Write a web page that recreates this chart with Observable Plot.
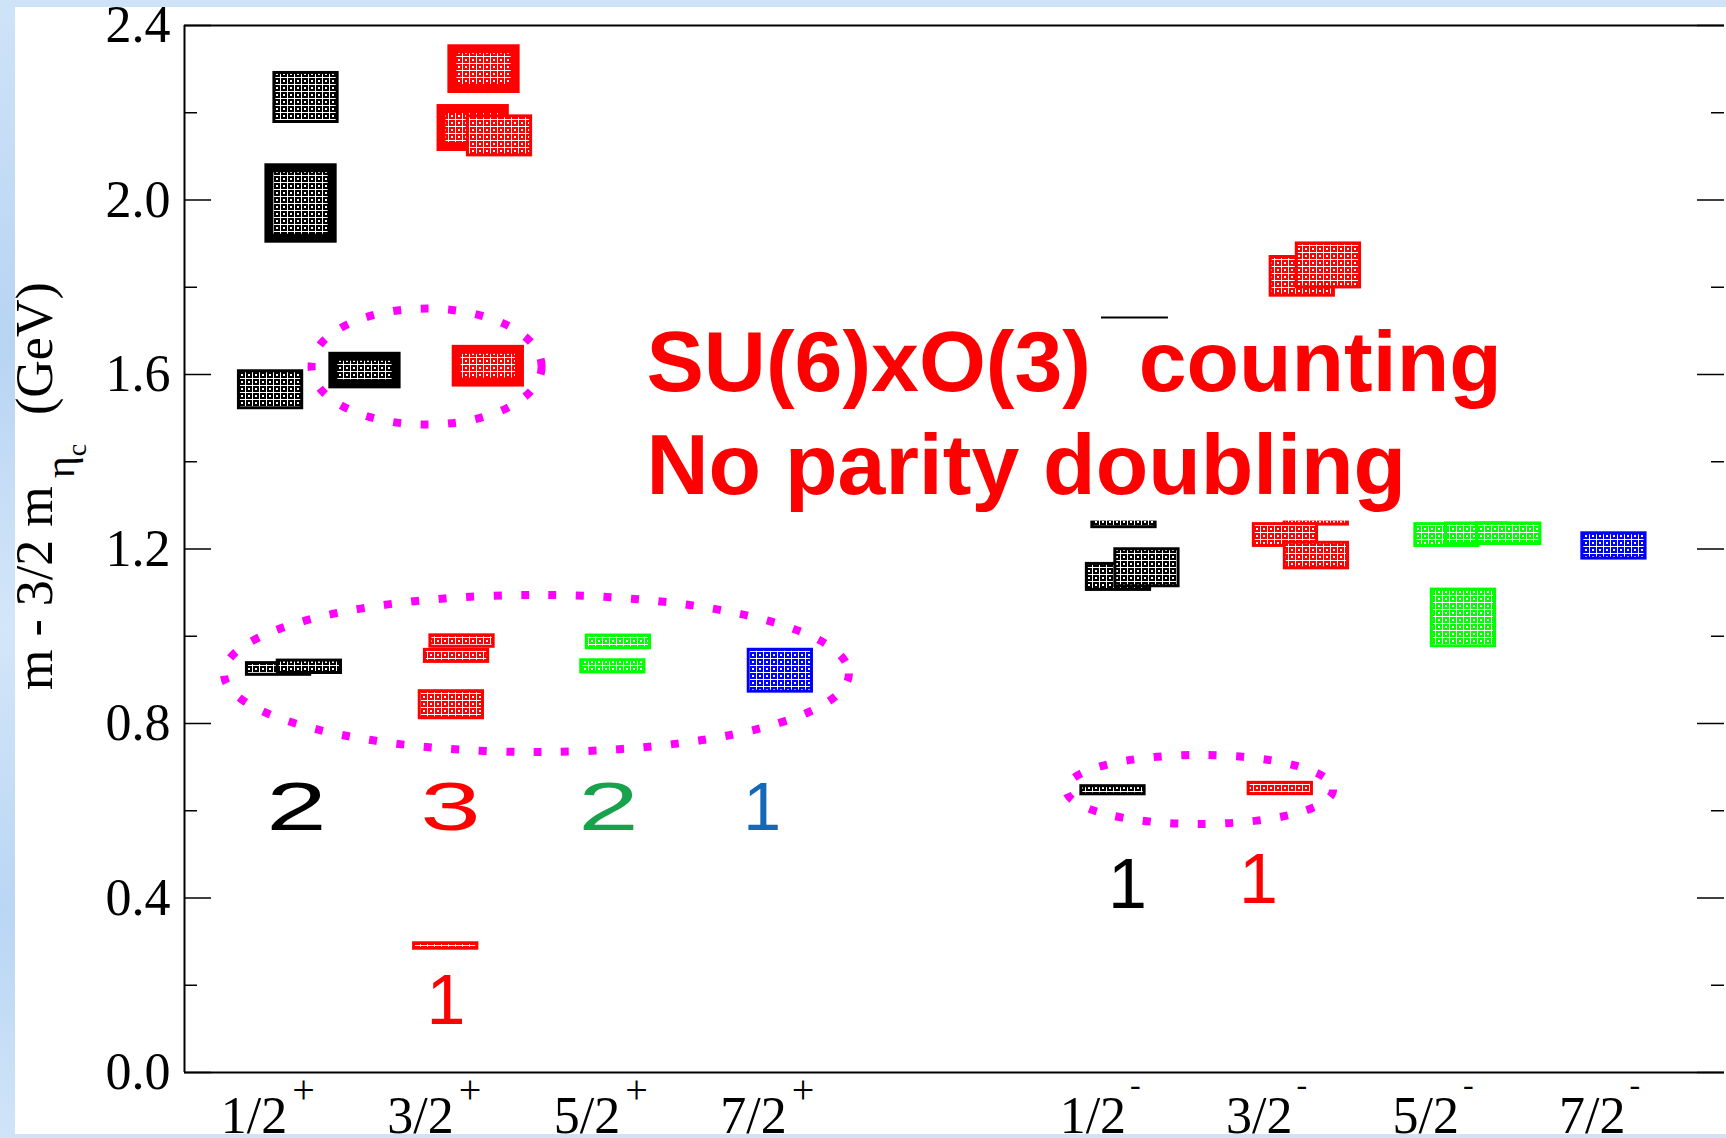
<!DOCTYPE html>
<html><head><meta charset="utf-8">
<script src="https://cdn.jsdelivr.net/npm/d3@7"></script>
<script src="https://cdn.jsdelivr.net/npm/@observablehq/plot@0.6"></script>
<style>
html,body{margin:0;padding:0;}
body{width:1726px;height:1138px;overflow:hidden;background:linear-gradient(180deg,#cfe3f8 0%,#b7d4f3 30%,#d4e6f9 55%,#b9d6f4 80%,#d0e4f8 100%);}
#wrap{position:absolute;left:0;top:0;width:1726px;height:1138px;}
#panel{position:absolute;left:15px;top:7px;right:0;bottom:4px;background:#fff;}
#chart{position:absolute;left:0;top:0;width:1726px;height:1138px;}
</style></head><body>
<div id="wrap"><div id="panel"></div><div id="chart"></div></div>
<script>
// ---------- data ----------
const jpLabels = ["1/2+","3/2+","5/2+","7/2+","1/2-","3/2-","5/2-","7/2-"];
const jpPos    = [1, 2, 3, 4, 6, 7, 8, 9];
const jColors  = {"1/2": "#000000", "3/2": "#ff0000", "5/2": "#00ff00", "7/2": "#0000ff"};

// each level: [shift from J^P position, mass m - 3/2 m_etac (GeV), half error (GeV), thick border]
const lv_1h_plus  = [[0.017,1.565,0.0424,0],[0.584,1.609,0.0316,1],[0.200,1.992,0.0807,1],[0.230,2.235,0.0562,0],[0.065,0.925,0.0134,0],[0.250,0.930,0.0142,0]];
const lv_3h_plus  = [[0.069,0.290,0.0062,0],[0.103,0.843,0.0310,0],[0.134,0.955,0.0138,0],[0.167,0.989,0.0131,0],[0.325,1.619,0.0375,1],[0.234,2.165,0.0435,1],[0.392,2.147,0.0447,0],[0.299,2.300,0.0455,1]];
const lv_5h_plus  = [[0.073,0.931,0.0140,0],[0.106,0.987,0.0146,0]];
const lv_7h_plus  = [[0.079,0.921,0.0480,0]];
const lv_1h_minus = [[0.077,0.647,0.0093,0],[0.143,1.262,0.0120,0],[0.110,1.136,0.0298,0],[0.281,1.157,0.0424,0]];
const lv_3h_minus = [[0.082,0.651,0.0130,0],[0.298,1.272,0.0160,0],[0.113,1.232,0.0250,0],[0.299,1.185,0.0293,0],[0.214,1.825,0.0443,0],[0.371,1.850,0.0504,0]];
const lv_5h_minus = [[0.182,1.042,0.0649,0],[0.083,1.232,0.0250,0],[0.267,1.235,0.0235,0],[0.454,1.235,0.0235,0]];
const lv_7h_minus = [[0.086,1.207,0.0290,0]];

// counting numbers under the levels
const countText    = ["2","3","2","1","1","1","1"];
const countX       = [1.173, 2.098, 3.047, 3.969, 2.071, 6.164, 6.951];
const countY       = [0.555, 0.555, 0.555, 0.555, 0.112, 0.376, 0.389];
const countColor   = ["#000000","#ff0000","#17a24b","#1468b8","#ff0000","#000000","#ff0000"];
const countSize    = [68, 68, 68, 68, 70, 70, 70];
const countStretch = [1.6, 1.6, 1.6, 1.0, 1.0, 1.0, 1.0];

// annotation
const noteLines = ["SU(6)xO(3)\u00a0\u00a0counting", "No parity doubling"];
const noteX = [3.275, 3.275];
const noteY = [1.563, 1.327];
const coverX = [3.239, 8.765];
const coverY = [1.264, 1.770];
const overlineX = [6.008, 6.410];
const overlineY = [1.7307];

// dotted ellipses (centre and radii in data units)
const ellipseCX = [1.957, 2.617, 6.600];
const ellipseCY = [1.617, 0.9135, 0.6476];
const ellipseRX = [0.691, 1.877, 0.802];
const ellipseRY = [0.133, 0.180, 0.0791];

const yMajor = [0, 0.4, 0.8, 1.2, 1.6, 2.0, 2.4];
const yMinor = [0.2, 0.6, 1.0, 1.4, 1.8, 2.2];

// ---------- build tables ----------
const levelSets = [lv_1h_plus, lv_3h_plus, lv_5h_plus, lv_7h_plus, lv_1h_minus, lv_3h_minus, lv_5h_minus, lv_7h_minus];
const boxes = levelSets.flatMap((set, k) => set.map(([shift, m, e, thick]) => ({
  J: jpLabels[k].slice(0, 3), pos: jpPos[k] + shift, m, e, thick
})));
const counts = countText.map((t, i) => ({t, x: countX[i], y: countY[i], c: countColor[i], s: countSize[i]}));
const notes = noteLines.map((t, i) => ({t, x: noteX[i], y: noteY[i]}));
const ellipses = ellipseCX.map((cx, i) => ({cx, cy: ellipseCY[i], rx: ellipseRX[i], ry: ellipseRY[i]}));

const hw = 0.19;
const ns = "http://www.w3.org/2000/svg";
const jKeys = Object.keys(jColors);

const boxMarks = jKeys.map((J, k) => Plot.rect(boxes.filter(b => b.J === J), {
  x1: d => d.pos - hw, x2: d => d.pos + hw,
  y1: d => d.m - d.e, y2: d => d.m + d.e,
  fill: `url(#pat${k})`, stroke: jColors[J],
  strokeWidth: d => d.thick ? 9 : 3
}));

const ellipseMark = (index, scales) => {
  const g = document.createElementNS(ns, "g");
  for (const e of ellipses) {
    const el = document.createElementNS(ns, "ellipse");
    const cx = scales.x(e.cx), cy = scales.y(e.cy);
    el.setAttribute("cx", cx);
    el.setAttribute("cy", cy);
    el.setAttribute("rx", scales.x(e.cx + e.rx) - cx);
    el.setAttribute("ry", cy - scales.y(e.cy + e.ry));
    el.setAttribute("fill", "none");
    el.setAttribute("stroke", "#ff00ff");
    el.setAttribute("stroke-width", 8);
    el.setAttribute("stroke-dasharray", "8 19.5");
    g.appendChild(el);
  }
  return g;
};

const yLabelMark = () => {
  const t = document.createElementNS(ns, "text");
  t.setAttribute("transform", "translate(52,690) rotate(-90)");
  t.setAttribute("text-anchor", "start");
  t.setAttribute("font-family", "'Liberation Serif', serif");
  t.setAttribute("font-size", 52);
  t.setAttribute("fill", "#000");
  const parts = [["m - 3/2 m", {}], ["η", {"font-size": 42, dy: 22, dx: 8}], ["c", {"font-size": 28, dy: 12}], ["(GeV)", {x: 275, y: 0}]];
  for (const [txt, attrs] of parts) {
    const s = document.createElementNS(ns, "tspan");
    for (const [k, v] of Object.entries(attrs)) s.setAttribute(k, v);
    s.textContent = txt;
    t.appendChild(s);
  }
  return t;
};

const FW = 1726 - 184 - 2;

const plot = Plot.plot({
  width: 1726, height: 1138,
  marginLeft: 184, marginRight: 2, marginTop: 25, marginBottom: 66,
  x: {domain: [0.5, 9.75]},
  y: {domain: [0, 2.4]},
  color: {type: "identity"},
  style: {background: "transparent", fontFamily: "'Liberation Serif', serif", color: "#000"},
  marks: [
    ...boxMarks,
    Plot.rect([0], {x1: () => coverX[0], x2: () => coverX[1], y1: () => coverY[0], y2: () => coverY[1], fill: "white"}),
    Plot.ruleY(overlineY, {y: d => d, x1: () => overlineX[0], x2: () => overlineX[1], stroke: "#000", strokeWidth: 2}),
    Plot.text(notes, {x: "x", y: "y", text: "t", textAnchor: "start", lineAnchor: "bottom",
      fill: "#ff0000", fontFamily: "'Liberation Sans', Arial, sans-serif", fontWeight: "bold", fontSize: 86}),
    ellipseMark,
    Plot.text(counts, {x: "x", y: "y", text: "t", fill: "c", fontSize: "s", lineAnchor: "bottom",
      fontFamily: "'Liberation Sans', Arial, sans-serif"}),
    Plot.tickY(yMajor, {y: d => d, insetRight: FW - 27, stroke: "#000", strokeWidth: 1.5}),
    Plot.tickY(yMinor, {y: d => d, insetRight: FW - 13, stroke: "#000", strokeWidth: 1.5}),
    Plot.tickY(yMajor, {y: d => d, insetLeft: FW - 27, stroke: "#000", strokeWidth: 1.5}),
    Plot.tickY(yMinor, {y: d => d, insetLeft: FW - 13, stroke: "#000", strokeWidth: 1.5}),
    Plot.ruleY([0, 2.4], {stroke: "#000", strokeWidth: 2}),
    Plot.ruleX([0.5], {stroke: "#000", strokeWidth: 2}),
    Plot.axisY({ticks: yMajor, tickSize: 0, tickPadding: 14, tickFormat: d3.format(".1f"), fontSize: 52, label: null}),
    Plot.axisX({ticks: jpPos, tickSize: 0, tickPadding: 24, tickFormat: d => jpLabels[jpPos.indexOf(d)], fontSize: 52, label: null}),
    yLabelMark
  ]
});

// fill patterns
const defs = document.createElementNS(ns, "defs");
jKeys.forEach((J, k) => {
  const p = document.createElementNS(ns, "pattern");
  p.setAttribute("id", `pat${k}`);
  p.setAttribute("patternUnits", "userSpaceOnUse");
  p.setAttribute("width", 7); p.setAttribute("height", 7);
  const rects = [[0,0,7,7,jColors[J]],[0,0,7,1,"#fff"],[0,0,1,7,"#fff"],[3,3,2,2,"#fff"]];
  for (const [x,y,w,h,f] of rects) {
    const r = document.createElementNS(ns, "rect");
    r.setAttribute("x", x); r.setAttribute("y", y); r.setAttribute("width", w); r.setAttribute("height", h); r.setAttribute("fill", f);
    p.appendChild(r);
  }
  defs.appendChild(p);
});
plot.insertBefore(defs, plot.firstChild);

// superscript parity on x tick labels
plot.querySelectorAll('g[aria-label="x-axis tick label"] text').forEach(t => {
  const s = t.textContent;
  const plus = s.endsWith("+");
  t.textContent = s.slice(0, -1);
  const sup = document.createElementNS(ns, "tspan");
  sup.setAttribute("dy", plus ? -30 : -38);
  sup.setAttribute("dx", plus ? 5 : 4);
  sup.setAttribute("font-size", plus ? 40 : 32);
  sup.textContent = s.slice(-1);
  t.appendChild(sup);
});

document.getElementById("chart").appendChild(plot);

// widen the "2" and "3" numerals like the reference lettering
const countEls = Array.from(plot.querySelectorAll('g[aria-label="text"] text')).filter(t => countText.includes(t.textContent));
countEls.forEach((t, i) => {
  if (countStretch[i] === 1) return;
  const w = t.getComputedTextLength();
  t.setAttribute("textLength", w * countStretch[i]);
  t.setAttribute("lengthAdjust", "spacingAndGlyphs");
});
</script></body></html>
